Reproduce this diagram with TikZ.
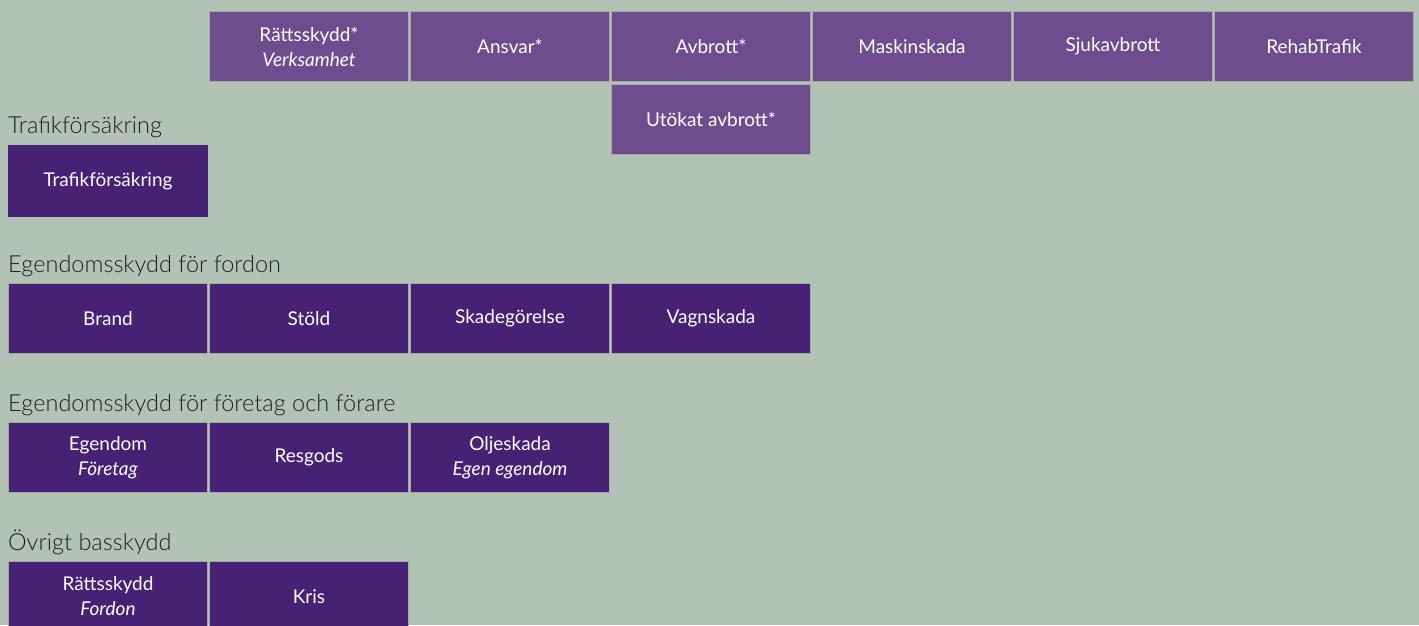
\documentclass[tikz,border=0pt]{standalone}
\usepackage{fontspec}
\setmainfont{Lato}
\newfontfamily\lightfont{Lato Light}
\definecolor{bg}{HTML}{B2C3B5}
\definecolor{lightpurple}{HTML}{6E4D8F}
\definecolor{darkpurple}{HTML}{472174}
\definecolor{boxline}{HTML}{A3ABA5}
\definecolor{labeltext}{HTML}{1E1E1E}
\tikzset{
  box/.style={draw=boxline, line width=1pt, minimum width=199pt, minimum height=70pt,
    anchor=north west, inner sep=0pt, outer sep=0pt, text=white, align=center,
    font=\fontsize{19}{25}\selectfont},
  topbox/.style={box, fill=lightpurple},
  basebox/.style={box, fill=darkpurple},
  grouplabel/.style={anchor=base west, inner sep=0pt, text=labeltext,
    font=\lightfont\fontsize{23.5}{26}\selectfont}
}
\begin{document}
\begin{tikzpicture}[x=1pt,y=-1pt]
\fill[bg] (0,0) rectangle (1419,625);
\useasboundingbox (0,0) rectangle (1419,625);
% top row
\node[topbox] (rattv) at (209.5,11.5) {Rättsskydd*\\\textit{Verksamhet}};
\node[topbox] (ansvar) at (410.5,11.5) {Ansvar*};
\node[topbox] (avbrott) at (611.5,11.5) {Avbrott*};
\node[topbox] (maskin) at (812.5,11.5) {Maskinskada};
\node[topbox] (sjuk) at (1013.5,11.5) {Sjukavbrott};
\node[topbox] (rehab) at (1214.5,11.5) {RehabTrafik};
\node[topbox] (utokat) at (611.5,84) {Utökat avbrott*};
% Trafikförsäkring
\node[grouplabel] (ltraf) at (8,133) {Trafikförsäkring};
\node[basebox, draw=none, minimum width=200pt, minimum height=72pt] (traf) at (8,145) {Trafikförsäkring};
% Egendomsskydd för fordon
\node[grouplabel] (lfordon) at (8,272) {Egendomsskydd för fordon};
\node[basebox] (brand) at (8.5,283.5) {Brand};
\node[basebox] (stold) at (209.5,283.5) {Stöld};
\node[basebox] (skade) at (410.5,283.5) {Skadegörelse};
\node[basebox] (vagn) at (611.5,283.5) {Vagnskada};
% Egendomsskydd för företag och förare
\node[grouplabel] (lforetag) at (8,411) {Egendomsskydd för företag och förare};
\node[basebox] (egendom) at (8.5,422.5) {Egendom\\\textit{Företag}};
\node[basebox] (resgods) at (209.5,422.5) {Resgods};
\node[basebox] (olje) at (410.5,422.5) {Oljeskada\\\textit{Egen egendom}};
% Övrigt basskydd
\node[grouplabel] (lovrigt) at (8,550) {Övrigt basskydd};
\node[basebox] (rattf) at (8.5,561.5) {Rättsskydd\\\textit{Fordon}};
\node[basebox] (kris) at (209.5,561.5) {Kris};
\end{tikzpicture}
\end{document}
